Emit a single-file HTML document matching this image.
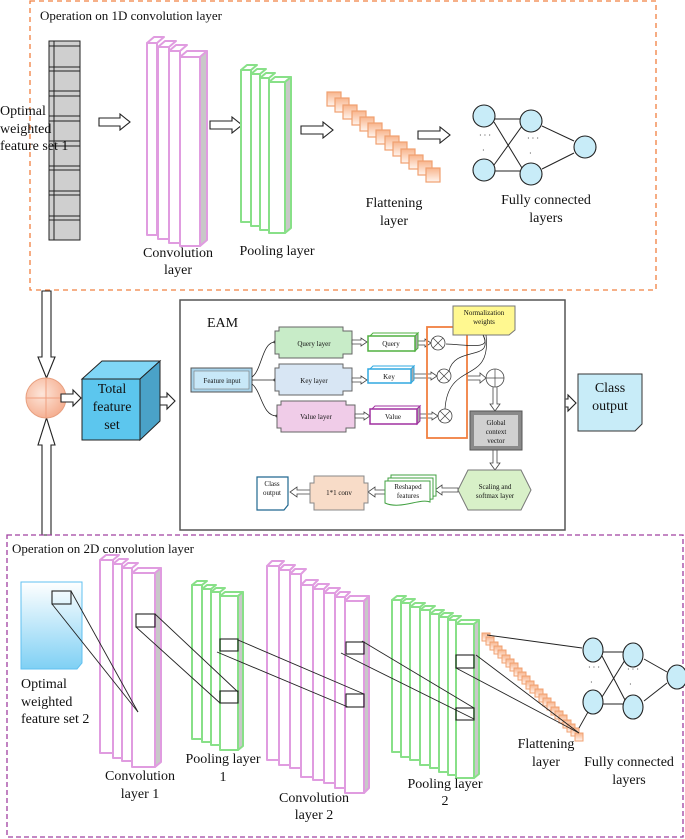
<!DOCTYPE html>
<html><head><meta charset="utf-8"><style>
html,body{margin:0;padding:0;background:#fff}
svg{display:block}
text{font-family:"Liberation Serif",serif;fill:#111}
</style></head><body>
<svg width="685" height="839" viewBox="0 0 685 839" xmlns="http://www.w3.org/2000/svg">
<defs>
<linearGradient id="og" x1="0" y1="0" x2="0" y2="1"><stop offset="0" stop-color="#f8b48c"/><stop offset="1" stop-color="#fff4ee"/></linearGradient>
<linearGradient id="bg" x1="0" y1="0" x2="0" y2="1"><stop offset="0" stop-color="#fff"/><stop offset="1" stop-color="#7fd0f4"/></linearGradient>
<radialGradient id="cg" cx="0.4" cy="0.4" r="0.7"><stop offset="0" stop-color="#fde6da"/><stop offset="1" stop-color="#f4a888"/></radialGradient>
<rect id="fq" width="14" height="14" fill="url(#og)" stroke="#f0a070" stroke-width="1.2"/>
<rect id="fs" width="8" height="8" fill="url(#og)" stroke="#f0a070" stroke-width="1"/>
</defs>

<!-- TOP 1D BOX -->
<rect x="30" y="1" width="626" height="289" fill="none" stroke="#f08040" stroke-width="1.3" stroke-dasharray="5,4"/>
<text x="40" y="20" font-size="13">Operation on 1D convolution layer</text>

<!-- gray column -->
<rect x="49" y="41" width="31" height="199" fill="#cfcfcf" stroke="#222" stroke-width="1"/>
<line x1="54" y1="41" x2="54" y2="240" stroke="#222"/>
<g stroke="#222" stroke-width="1">
<line x1="49" y1="46" x2="80" y2="46"/>
<line x1="49" y1="67" x2="80" y2="67"/><line x1="49" y1="71" x2="80" y2="71"/>
<line x1="49" y1="91" x2="80" y2="91"/><line x1="49" y1="96" x2="80" y2="96"/>
<line x1="49" y1="116" x2="80" y2="116"/><line x1="49" y1="121" x2="80" y2="121"/>
<line x1="49" y1="141" x2="80" y2="141"/><line x1="49" y1="146" x2="80" y2="146"/>
<line x1="49" y1="166" x2="80" y2="166"/><line x1="49" y1="170" x2="80" y2="170"/>
<line x1="49" y1="191" x2="80" y2="191"/><line x1="49" y1="195" x2="80" y2="195"/>
<line x1="49" y1="216" x2="80" y2="216"/><line x1="49" y1="220" x2="80" y2="220"/>
</g>
<text font-size="14"><tspan x="0" y="115">Optimal</tspan><tspan x="0" y="133">weighted</tspan><tspan x="0" y="150">feature set 1</tspan></text>

<g fill="#fff" stroke="#222" stroke-width="1.1">
<path d="M99,118 L120,118 L120,114 L130,122 L120,130 L120,126 L99,126Z"/>
<path d="M210,121 L232,121 L232,117 L242,125 L232,133 L232,129 L210,129Z"/>
<path d="M301,126 L323,126 L323,122 L333,130 L323,138 L323,134 L301,134Z"/>
<path d="M418,131 L440,131 L440,127 L450,135 L440,143 L440,139 L418,139Z"/>
</g>

<!-- conv 1D slabs -->
<g stroke="#e09ce0" stroke-width="2" fill="#fff" stroke-linejoin="round">
<polygon points="147,43 154,37 164,37 157,43"/><rect x="147" y="43" width="10" height="192"/>
<polygon points="158,47 165,41 176,41 169,47"/><rect x="158" y="47" width="11" height="192"/>
<polygon points="169,51 176,45 187,45 180,51"/><rect x="169" y="51" width="11" height="192"/>
<polygon points="180,57 187,51 207,51 200,57"/><polygon points="200,57 207,51 207,240 200,246" fill="#c8c8c8"/><rect x="180" y="57" width="20" height="189"/>
</g>
<!-- pool 1D slabs -->
<g stroke="#88e088" stroke-width="2" fill="#fff" stroke-linejoin="round">
<polygon points="241,70 247,65 257,65 251,70"/><rect x="241" y="70" width="10" height="152"/>
<polygon points="251,74 257,69 266,69 260,74"/><rect x="251" y="74" width="9" height="152"/>
<polygon points="260,78 266,73 275,73 269,78"/><rect x="260" y="78" width="9" height="152"/>
<polygon points="269,82 275,77 291,77 285,82"/><polygon points="285,82 291,77 291,228 285,233" fill="#c8c8c8"/><rect x="269" y="82" width="16" height="151"/>
</g>
<!-- flatten 1D -->
<use href="#fq" x="327" y="92"/><use href="#fq" x="335" y="98"/><use href="#fq" x="343" y="105"/><use href="#fq" x="352" y="111"/><use href="#fq" x="360" y="117"/><use href="#fq" x="368" y="123"/><use href="#fq" x="376" y="130"/><use href="#fq" x="385" y="136"/><use href="#fq" x="393" y="142"/><use href="#fq" x="401" y="149"/><use href="#fq" x="409" y="155"/><use href="#fq" x="418" y="161"/><use href="#fq" x="426" y="168"/>

<text font-size="14" text-anchor="middle"><tspan x="178" y="257">Convolution</tspan><tspan x="178" y="274">layer</tspan></text>
<text x="277" y="255" font-size="14" text-anchor="middle">Pooling layer</text>
<text font-size="14" text-anchor="middle"><tspan x="394" y="207">Flattening</tspan><tspan x="394" y="225">layer</tspan></text>
<text font-size="14" text-anchor="middle"><tspan x="546" y="204">Fully connected</tspan><tspan x="546" y="222">layers</tspan></text>

<!-- FC top -->
<g stroke="#222" stroke-width="1">
<line x1="495" y1="119" x2="520" y2="119"/><line x1="495" y1="171" x2="520" y2="171"/>
<line x1="494" y1="122" x2="522" y2="168"/><line x1="494" y1="165" x2="522" y2="126"/>
<line x1="542" y1="126" x2="574" y2="141"/><line x1="542" y1="169" x2="574" y2="153"/>
</g>
<g fill="#c8ecf8" stroke="#222" stroke-width="1.1">
<circle cx="484" cy="116" r="11"/><circle cx="484" cy="170" r="11"/><circle cx="531" cy="121" r="11"/><circle cx="531" cy="174" r="11"/><circle cx="585" cy="147" r="11"/>
</g>
<text x="479" y="138" font-size="8">· · ·</text><text x="482" y="153" font-size="8">·</text>
<text x="527" y="141" font-size="8">· · ·</text><text x="529" y="156" font-size="8">·</text>

<!-- MIDDLE LEFT -->
<g fill="#fff" stroke="#222" stroke-width="1.1">
<path d="M42,291 L51,291 L51,357 L55,357 L46.5,378 L38,357 L42,357Z"/>
<path d="M42,535 L51,535 L51,445 L55,445 L46.5,418 L38,445 L42,445Z"/>
</g>
<circle cx="46" cy="398" r="20" fill="url(#cg)" stroke="#e8a080" stroke-width="1"/>
<line x1="26" y1="398" x2="66" y2="398" stroke="#f0a080"/><line x1="46" y1="378" x2="46" y2="418" stroke="#f0a080"/>
<g fill="#fff" stroke="#222" stroke-width="1.1">
<path d="M61,394 L73,394 L73,390 L81,398 L73,406 L73,402 L61,402Z"/>
<path d="M155,397 L167,397 L167,393 L175,401 L167,409 L167,405 L155,405Z"/>
<path d="M557,399 L568,399 L568,395 L576,403 L568,411 L568,407 L557,407Z"/>
</g>
<!-- cube -->
<polygon points="82,379 102,361 160,361 140,379" fill="#80d6f6" stroke="#222"/>
<polygon points="140,379 160,361 160,421 140,440" fill="#4aa2c8" stroke="#222"/>
<rect x="82" y="379" width="58" height="61" fill="#5cc6ee" stroke="#222"/>
<text font-size="14" text-anchor="middle"><tspan x="112" y="393">Total</tspan><tspan x="112" y="411">feature</tspan><tspan x="112" y="429">set</tspan></text>

<!-- EAM -->
<rect x="180" y="300" width="385" height="230" fill="#fff" stroke="#555" stroke-width="1.5"/>
<text x="207" y="327" font-size="14">EAM</text>

<rect x="191" y="368" width="61" height="24" fill="#a8d4ec" stroke="#555"/>
<rect x="194" y="371" width="55" height="18" fill="#c8e8f8" stroke="#777" stroke-width="0.6"/>
<text x="222" y="383" font-size="7" text-anchor="middle">Feature input</text>

<g stroke="#222" stroke-width="0.8" fill="none">
<path d="M252,377 C262,370 262,342 275,342"/><line x1="252" y1="380" x2="275" y2="380"/>
<path d="M252,384 C262,392 262,416 277,416"/>
</g>
<circle cx="275" cy="342" r="1.5" fill="#222"/><circle cx="275" cy="380" r="1.5" fill="#222"/><circle cx="277" cy="416" r="1.5" fill="#222"/>

<path d="M279,327 L343,327 L343,331 L352,331 L352,354 L343,354 L343,358 L279,358 L279,354 L275,354 L275,331 L279,331Z" fill="#c8ecc8" stroke="#666"/>
<text x="314" y="346" font-size="7" text-anchor="middle">Query layer</text>
<path d="M279,364 L343,364 L343,368 L352,368 L352,391 L343,391 L343,395 L279,395 L279,391 L275,391 L275,368 L279,368Z" fill="#d8e6f4" stroke="#666"/>
<text x="314" y="383" font-size="7" text-anchor="middle">Key layer</text>
<path d="M281,401 L346,401 L346,405 L355,405 L355,428 L346,428 L346,432 L281,432 L281,428 L277,428 L277,405 L281,405Z" fill="#f0cce8" stroke="#666"/>
<text x="316" y="419" font-size="7" text-anchor="middle">Value layer</text>

<g fill="#fff" stroke="#444" stroke-width="0.8">
<path d="M352,340 L361,340 L361,338 L367,342 L361,346 L361,344 L352,344Z"/>
<path d="M352,378 L361,378 L361,376 L367,380 L361,384 L361,382 L352,382Z"/>
<path d="M355,414 L364,414 L364,412 L370,416 L364,420 L364,418 L355,418Z"/>
<path d="M416,341 L425,341 L425,339 L431,343 L425,347 L425,345 L416,345Z"/>
<path d="M412,374 L431,374 L431,372 L437,376 L431,380 L431,378 L412,378Z"/>
<path d="M418,414 L432,414 L432,412 L438,416 L432,420 L432,418 L418,418Z"/>
<path d="M467,376 L480,376 L480,373 L486,378 L480,383 L480,380 L467,380Z"/>
<path d="M493,386 L497,386 L497,404 L500,404 L495,411 L490,404 L493,404Z"/>
<path d="M493,450 L497,450 L497,463 L500,463 L495,470 L490,463 L493,463Z"/>
<path d="M458,488 L442,488 L442,485 L435,490 L442,495 L442,492 L458,492Z"/>
<path d="M385,490 L375,490 L375,487 L368,492 L375,497 L375,494 L385,494Z"/>
<path d="M310,490 L297,490 L297,487 L290,492 L297,497 L297,494 L310,494Z"/>
</g>

<!-- small 3D boxes -->
<polygon points="370,336 373,333 418,333 415,336" fill="#fff" stroke="#50b040"/><polygon points="415,336 418,333 418,348 415,351" fill="#aaa" stroke="#50b040"/>
<rect x="368" y="336" width="47" height="15" fill="#fff" stroke="#50b040" stroke-width="1.5"/>
<text x="391" y="346" font-size="7" text-anchor="middle">Query</text>
<polygon points="370,369 373,366 414,366 411,369" fill="#fff" stroke="#30a8e0"/><polygon points="411,369 414,366 414,380 411,383" fill="#aaa" stroke="#30a8e0"/>
<rect x="368" y="369" width="43" height="14" fill="#fff" stroke="#30a8e0" stroke-width="1.5"/>
<text x="389" y="379" font-size="7" text-anchor="middle">Key</text>
<polygon points="372,409 375,406 420,406 417,409" fill="#fff" stroke="#a030a0"/><polygon points="417,409 420,406 420,421 417,424" fill="#aaa" stroke="#a030a0"/>
<rect x="370" y="409" width="47" height="15" fill="#fff" stroke="#a030a0" stroke-width="1.5"/>
<text x="393" y="419" font-size="7" text-anchor="middle">Value</text>

<rect x="427" y="327" width="40" height="111" fill="none" stroke="#f08040" stroke-width="1.8"/>
<g fill="#fff" stroke="#444" stroke-width="0.8">
<circle cx="438" cy="343" r="7"/><circle cx="444" cy="376" r="7"/><circle cx="445" cy="416" r="7"/><circle cx="495" cy="378" r="9"/>
</g>
<g stroke="#444" stroke-width="0.7">
<line x1="433" y1="338" x2="443" y2="348"/><line x1="443" y1="338" x2="433" y2="348"/>
<line x1="439" y1="371" x2="449" y2="381"/><line x1="449" y1="371" x2="439" y2="381"/>
<line x1="440" y1="411" x2="450" y2="421"/><line x1="450" y1="411" x2="440" y2="421"/>
<line x1="486" y1="378" x2="504" y2="378"/><line x1="495" y1="369" x2="495" y2="387"/>
</g>
<path d="M453,306 L515,306 L515,330 L509,335 L453,335Z" fill="#fff890" stroke="#777"/>
<text font-size="7" text-anchor="middle"><tspan x="484" y="315">Normalization</tspan><tspan x="484" y="324">weights</tspan></text>
<g stroke="#222" stroke-width="0.7" fill="none">
<path d="M483,335 C492,350 470,345 446,344"/>
<path d="M483,335 C495,362 455,345 449,371"/>
<path d="M486,335 C492,385 448,360 445,409"/>
</g>

<rect x="470" y="411" width="52" height="39" fill="#8a8a8a" stroke="#555"/>
<rect x="474" y="415" width="44" height="31" fill="#d0d0d0"/>
<text font-size="7" text-anchor="middle"><tspan x="496" y="425">Global</tspan><tspan x="496" y="434">context</tspan><tspan x="496" y="443">vector</tspan></text>

<polygon points="468,470 521,470 531,490 521,510 468,510 458,490" fill="#d8f0c8" stroke="#777"/>
<text font-size="7" text-anchor="middle"><tspan x="495" y="489">Scaling and</tspan><tspan x="495" y="498">softmax layer</tspan></text>

<g stroke="#40a040" stroke-width="1" fill="#fff">
<path d="M391,475 L436,475 L436,496 L391,498Z"/>
<path d="M388,478 L433,478 L433,499 L388,501Z"/>
<path d="M385,481 L430,481 L430,502 C420,498 400,510 385,503Z"/>
</g>
<text font-size="7" text-anchor="middle"><tspan x="408" y="489">Reshaped</tspan><tspan x="408" y="498">features</tspan></text>

<path d="M314,476 L364,476 L364,483 L368,483 L368,503 L364,503 L364,510 L314,510 L314,503 L310,503 L310,483 L314,483Z" fill="#f8dcc8" stroke="#888"/>
<text x="339" y="495" font-size="7" text-anchor="middle">1*1 conv</text>

<path d="M257,477 L288,477 L288,505 L284,510 L257,510Z" fill="#fff" stroke="#206890" stroke-width="1.2"/>
<text font-size="7" text-anchor="middle"><tspan x="272" y="486">Class</tspan><tspan x="272" y="495">output</tspan></text>

<path d="M578,374 L642,374 L642,424 L635,431 L578,431Z" fill="#c8ecf8" stroke="#333"/>
<text font-size="14" text-anchor="middle"><tspan x="610" y="392">Class</tspan><tspan x="610" y="410">output</tspan></text>

<!-- BOTTOM 2D BOX -->
<rect x="7" y="535" width="676" height="302" fill="none" stroke="#a040a0" stroke-width="1.3" stroke-dasharray="5,3"/>
<text x="12" y="553" font-size="13">Operation on 2D convolution layer</text>

<path d="M21,582 L82,582 L82,663 L77,669 L21,669Z" fill="url(#bg)" stroke="#60c0f0"/>
<text font-size="14"><tspan x="21" y="688">Optimal</tspan><tspan x="21" y="706">weighted</tspan><tspan x="21" y="723">feature set 2</tspan></text>

<!-- conv1 -->
<g stroke="#e09ce0" stroke-width="2" fill="#fff" stroke-linejoin="round">
<polygon points="100,560 106,555 119,555 113,560"/><rect x="100" y="560" width="13" height="193"/>
<polygon points="113,564 119,559 128,559 122,564"/><rect x="113" y="564" width="9" height="194"/>
<polygon points="122,568 128,563 138,563 132,568"/><rect x="122" y="568" width="10" height="193"/>
<polygon points="132,573 138,568 161,568 155,573"/><polygon points="155,573 161,568 161,762 155,767" fill="#c8c8c8"/><rect x="132" y="573" width="23" height="194"/>
</g>
<!-- pool1 -->
<g stroke="#88e088" stroke-width="2" fill="#fff" stroke-linejoin="round">
<polygon points="192,585 197,581 207,581 202,585"/><rect x="192" y="585" width="10" height="154"/>
<polygon points="202,589 207,585 216,585 211,589"/><rect x="202" y="589" width="9" height="153"/>
<polygon points="211,592 216,588 225,588 220,592"/><rect x="211" y="592" width="9" height="153"/>
<polygon points="220,596 225,592 243,592 238,596"/><polygon points="238,596 243,592 243,746 238,750" fill="#c8c8c8"/><rect x="220" y="596" width="18" height="154"/>
</g>
<!-- conv2 -->
<g stroke="#e09ce0" stroke-width="2" fill="#fff" stroke-linejoin="round">
<polygon points="267,566 272,561 284,561 279,566"/><rect x="267" y="566" width="12" height="194"/>
<polygon points="279,570 284,565 295,565 290,570"/><rect x="279" y="570" width="11" height="195"/>
<polygon points="290,574 295,569 306,569 301,574"/><rect x="290" y="574" width="11" height="194"/>
<polygon points="301,585 306,580 318,580 313,585"/><rect x="301" y="585" width="12" height="192"/>
<polygon points="313,589 318,584 329,584 324,589"/><rect x="313" y="589" width="11" height="191"/>
<polygon points="324,593 329,588 340,588 335,593"/><rect x="324" y="593" width="11" height="190"/>
<polygon points="335,597 340,592 350,592 345,597"/><rect x="335" y="597" width="10" height="191"/>
<polygon points="345,601 350,596 369,596 364,601"/><polygon points="364,601 369,596 369,788 364,793" fill="#c8c8c8"/><rect x="345" y="601" width="19" height="192"/>
</g>
<!-- pool2 -->
<g stroke="#88e088" stroke-width="2" fill="#fff" stroke-linejoin="round">
<polygon points="392,600 397,596 406,596 401,600"/><rect x="392" y="600" width="9" height="152"/>
<polygon points="401,603 406,599 415,599 410,603"/><rect x="401" y="603" width="9" height="154"/>
<polygon points="410,607 415,603 425,603 420,607"/><rect x="410" y="607" width="10" height="153"/>
<polygon points="420,610 425,606 435,606 430,610"/><rect x="420" y="610" width="10" height="155"/>
<polygon points="430,614 435,610 444,610 439,614"/><rect x="430" y="614" width="9" height="154"/>
<polygon points="439,617 444,613 453,613 448,617"/><rect x="439" y="617" width="9" height="155"/>
<polygon points="448,620 453,616 461,616 456,620"/><rect x="448" y="620" width="8" height="155"/>
<polygon points="456,624 461,620 479,620 474,624"/><polygon points="474,624 479,620 479,774 474,778" fill="#c8c8c8"/><rect x="456" y="624" width="18" height="154"/>
</g>
<!-- flatten 2D -->
<use href="#fs" x="482" y="633"/><use href="#fs" x="486" y="637"/><use href="#fs" x="490" y="642"/><use href="#fs" x="494" y="646"/><use href="#fs" x="498" y="650"/><use href="#fs" x="502" y="655"/><use href="#fs" x="506" y="659"/><use href="#fs" x="510" y="663"/><use href="#fs" x="514" y="668"/><use href="#fs" x="518" y="672"/><use href="#fs" x="522" y="676"/><use href="#fs" x="526" y="681"/><use href="#fs" x="530" y="685"/><use href="#fs" x="535" y="689"/><use href="#fs" x="539" y="694"/><use href="#fs" x="543" y="698"/><use href="#fs" x="547" y="702"/><use href="#fs" x="551" y="707"/><use href="#fs" x="555" y="711"/><use href="#fs" x="559" y="715"/><use href="#fs" x="563" y="720"/><use href="#fs" x="567" y="724"/><use href="#fs" x="571" y="728"/><use href="#fs" x="575" y="733"/>

<!-- receptive squares and lines -->
<g fill="none" stroke="#222" stroke-width="1.1">
<rect x="52" y="591" width="19" height="13"/>
<rect x="136" y="614" width="19" height="13"/>
<rect x="220" y="639" width="18" height="12"/>
<rect x="220" y="691" width="18" height="12"/>
<rect x="346" y="642" width="18" height="12"/>
<rect x="346" y="694" width="18" height="13"/>
<rect x="456" y="655" width="18" height="13"/>
<rect x="456" y="708" width="18" height="12"/>
</g>
<g stroke="#222" stroke-width="0.9">
<line x1="52" y1="604" x2="138" y2="712"/><line x1="71" y1="591" x2="138" y2="712"/>
<line x1="136" y1="627" x2="220" y2="703"/><line x1="155" y1="614" x2="238" y2="692"/>
<line x1="217" y1="652" x2="348" y2="707"/><line x1="238" y1="640" x2="364" y2="694"/>
<line x1="341" y1="653" x2="474" y2="719"/><line x1="362" y1="641" x2="474" y2="708"/>
<line x1="456" y1="668" x2="579" y2="733"/><line x1="476" y1="655" x2="579" y2="733"/>
<line x1="487" y1="635" x2="582" y2="648"/><line x1="579" y1="728" x2="588" y2="712"/>
</g>
<!-- FC bottom -->
<g stroke="#222" stroke-width="1">
<line x1="603" y1="652" x2="623" y2="652"/><line x1="603" y1="704" x2="623" y2="704"/>
<line x1="602" y1="656" x2="625" y2="700"/><line x1="602" y1="697" x2="625" y2="660"/>
<line x1="644" y1="659" x2="667" y2="672"/><line x1="644" y1="701" x2="667" y2="683"/>
</g>
<g fill="#c8ecf8" stroke="#222" stroke-width="1.1">
<ellipse cx="593" cy="650" rx="10" ry="12"/><ellipse cx="593" cy="702" rx="10" ry="12"/><ellipse cx="633" cy="655" rx="10" ry="12"/><ellipse cx="633" cy="707" rx="10" ry="12"/><ellipse cx="677" cy="677" rx="10" ry="12"/>
</g>
<text x="588" y="670" font-size="8">· · ·</text><text x="590" y="685" font-size="8">·</text>
<text x="627" y="672" font-size="8">· · ·</text><text x="629" y="687" font-size="8">·</text>

<text font-size="14" text-anchor="middle"><tspan x="140" y="780">Convolution</tspan><tspan x="140" y="798">layer 1</tspan></text>
<text font-size="14" text-anchor="middle"><tspan x="223" y="763">Pooling layer</tspan><tspan x="223" y="781">1</tspan></text>
<text font-size="14" text-anchor="middle"><tspan x="314" y="802">Convolution</tspan><tspan x="314" y="819">layer 2</tspan></text>
<text font-size="14" text-anchor="middle"><tspan x="445" y="788">Pooling layer</tspan><tspan x="445" y="805">2</tspan></text>
<text font-size="14" text-anchor="middle"><tspan x="546" y="748">Flattening</tspan><tspan x="546" y="766">layer</tspan></text>
<text font-size="14" text-anchor="middle"><tspan x="629" y="766">Fully connected</tspan><tspan x="629" y="784">layers</tspan></text>
</svg>
</body></html>
